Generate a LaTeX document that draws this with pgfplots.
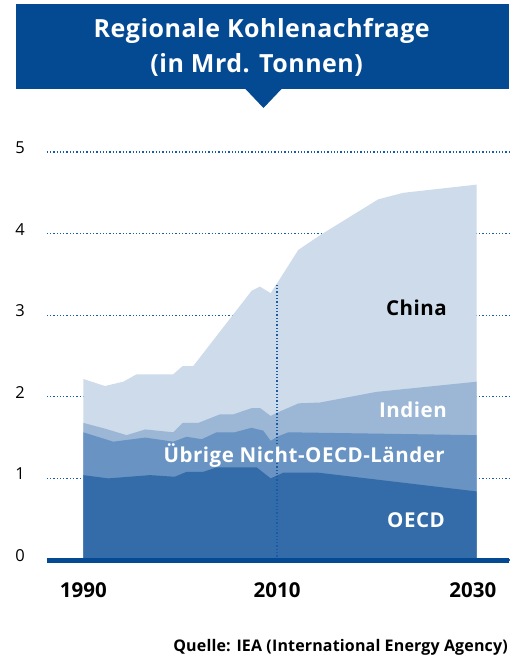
\documentclass[border=0pt]{standalone}
\usepackage{pgfplots}
\pgfplotsset{compat=1.18}
\usepackage{fontspec}
\setmainfont{Open Sans}
\definecolor{banner}{RGB}{4,74,147}
\definecolor{chinac}{RGB}{205,219,234}
\definecolor{indienc}{RGB}{155,183,213}
\definecolor{otherc}{RGB}{104,147,194}
\definecolor{oecdc}{RGB}{51,108,169}
\definecolor{gridc}{RGB}{26,91,165}
\newcommand\titlefont{\bfseries\fontsize{25}{29}\selectfont\addfontfeature{LetterSpace=2}}
\newcommand\labfont{\bfseries\fontsize{20.5}{24}\selectfont\addfontfeature{LetterSpace=2.5}}
\begin{document}
\begin{tikzpicture}[x=1pt,y=1pt]
\useasboundingbox (0,0) rectangle (514,658);
% title banner
\fill[banner] (16,569) rectangle (509,654);
\fill[banner] (245,569.5) -- (282,569.5) -- (263.5,550) -- cycle;
\node[anchor=base, text=white, inner sep=0, font=\titlefont] at (261.7,620) {Regionale Kohlenachfrage};
\node[anchor=base, text=white, inner sep=0, font=\titlefont] at (256.7,585) {(in Mrd. Tonnen)};
\begin{axis}[
  at={(46.7pt,98pt)}, anchor=south west,
  scale only axis, width=462.3pt, height=408pt,
  xmin=1986.28, xmax=2033.28, ymin=0, ymax=5,
  clip=false,
  axis line style={draw=none},
  major tick length=0pt,
  ytick={0,1,2,3,4,5},
  ymajorgrids,
  grid style={draw=gridc, line width=1.3pt, dash pattern=on 1.3pt off 2pt},
  xtick={1990,2009.7,2029.6},
  xticklabels={1990,2010,2030},
  xticklabel style={anchor=base, inner sep=0pt, yshift=-38pt, font=\bfseries\fontsize{20.5}{24}\selectfont},
  yticklabel style={anchor=east, inner sep=0pt, xshift=-21.7pt, yshift=4.5pt, font=\fontsize{16.5}{20}\selectfont},
  /pgf/number format/assume math mode=true,
]
% total (China top)
\addplot[fill=chinac, draw=none] coordinates {
 (1990,2.218) (1992.2,2.132) (1994.07,2.185) (1995.43,2.276) (1999.15,2.276)
 (2000.1,2.377) (2001.18,2.377) (2007.12,3.30) (2007.96,3.35) (2009.05,3.27)
 (2009.7,3.39) (2011.86,3.80) (2014.07,3.98) (2019.99,4.42) (2022.54,4.50) (2030,4.60)
} \closedcycle;
% India top
\addplot[fill=indienc, draw=none] coordinates {
 (1990,1.68) (1992.2,1.61) (1994.4,1.53) (1996.3,1.60) (1999.15,1.565)
 (2000.1,1.68) (2001.7,1.68) (2003.9,1.785) (2005.25,1.785) (2007.1,1.86)
 (2008,1.86) (2009.05,1.765) (2009.7,1.805) (2011.9,1.92) (2014.07,1.93)
 (2019.8,2.06) (2030,2.185)
} \closedcycle;
% other non-OECD top
\addplot[fill=otherc, draw=none] coordinates {
 (1990,1.565) (1993.05,1.45) (1996.3,1.50) (1999.15,1.45) (2000.5,1.51)
 (2002.04,1.48) (2003.56,1.565) (2005.4,1.565) (2007.1,1.62) (2008.3,1.585)
 (2009.05,1.46) (2009.7,1.51) (2010.85,1.565) (2030,1.53)
} \closedcycle;
% OECD
\addplot[fill=oecdc, draw=none] coordinates {
 (1990,1.04) (1992.54,1.00) (1996.78,1.04) (1999.3,1.02) (2000.5,1.08)
 (2002.2,1.08) (2003.56,1.135) (2007.63,1.135) (2009.05,1.00) (2010.33,1.07)
 (2013.9,1.07) (2030,0.84)
} \closedcycle;
% 2010 marker line
\addplot[draw=gridc, line width=1.3pt, dash pattern=on 1.3pt off 2pt] coordinates {(2009.7,0) (2009.7,3.37)};
% base bar
\addplot[draw=banner, line width=5pt] coordinates {(1986.28,-0.006) (2033.28,-0.006)};
\end{axis}
\node[anchor=base east, inner sep=0, text=black, font=\labfont] at (447,342) {China};
\node[anchor=base east, inner sep=0, text=white, font=\labfont] at (447,240) {Indien};
\node[anchor=base east, inner sep=0, text=white, font=\labfont] at (445,195.3) {Übrige Nicht-OECD-Länder};
\node[anchor=base east, inner sep=0, text=white, font=\labfont] at (445,130) {OECD};
\node[anchor=base east, inner sep=0, text=black, font=\bfseries\fontsize{16}{20}\selectfont\addfontfeature{LetterSpace=1}] at (508,6.5) {Quelle: IEA (International Energy Agency)};
\end{tikzpicture}
\end{document}
